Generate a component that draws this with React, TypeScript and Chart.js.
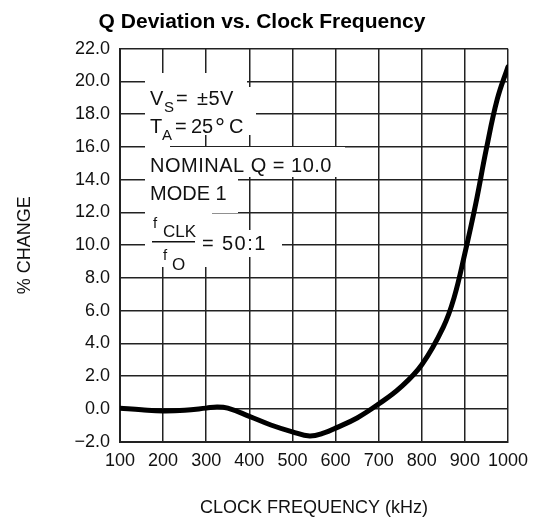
import { useEffect, useRef } from "react";
import { Chart, registerables } from "chart.js";

Chart.register(...registerables);

const chartTitle = "Q Deviation vs. Clock Frequency";
const xAxisTitle = "CLOCK FREQUENCY (kHz)";
const yAxisTitle = "% CHANGE";

const xTickValues = [100, 200, 300, 400, 500, 600, 700, 800, 900, 1000];
const yTickValues = [-2, 0, 2, 4, 6, 8, 10, 12, 14, 16, 18, 20, 22];

const freqKHz = [
  100, 150, 200, 250, 300, 325, 350, 400, 450, 500, 540, 575, 600, 650, 700,
  750, 800, 850, 875, 900, 925, 950, 975, 1000,
];
const pctChange = [
  0.05, -0.05, -0.12, -0.08, 0.05, 0.12, 0.05, -0.45, -0.98, -1.4, -1.65,
  -1.45, -1.17, -0.55, 0.3, 1.3, 2.7, 5.0, 6.8, 9.5, 12.5, 15.9, 18.9, 20.9,
];

const FONT = '"Liberation Sans", Arial, Helvetica, sans-serif';

// Annotation layout, offsets relative to the chart area's top-left corner
// [text, dx, dyBaseline, fontSize, letterSpacing]
const noteTexts: [string, number, number, number, number][] = [
  ["V", 30, 56.3, 20, 0],
  ["S", 44, 63.3, 15, 0],
  ["=", 56, 56.3, 20, 0],
  ["±5V", 77, 56.3, 20, 0.5],
  ["T", 30, 84.3, 20, 0],
  ["A", 42, 91.3, 15, 0],
  ["=", 55, 84.3, 20, 0],
  ["25", 71, 84.3, 20, 0],
  ["°", 95, 87.3, 25, 0],
  ["C", 109, 84.3, 20, 0],
  ["NOMINAL Q = 10.0", 30, 123.3, 20, 0.5],
  ["MODE 1", 30, 151.3, 20, 0],
  ["f", 33, 179.3, 15, 0],
  ["CLK", 43, 188.3, 17, 0],
  ["=", 82, 201.3, 20, 0],
  ["50:1", 102, 201.3, 20, 1.5],
  ["f", 43, 211.3, 15, 0],
  ["O", 52, 221.3, 17, 0],
];
// [dx1, dy1, dx2, dy2] white masks behind the text lines
const noteMasks: [number, number, number, number][] = [
  [25, 24.3, 127, 67.3],
  [25, 38.3, 136, 86.3],
  [25, 98.3, 225, 128.3],
  [25, 128.3, 118, 164.3],
  [25, 164.3, 92, 190],
  [77, 181.3, 162, 208.3],
  [25, 190, 92, 218.3],
  [25, 24.3, 50, 218.3],
];
const fractionBar: [number, number, number] = [32, 75, 193];

const notePlugin = {
  id: "notes",
  beforeDraw(chart: any) {
    chart.ctx.letterSpacing = "0px";
  },
  beforeDatasetsDraw(chart: any) {
    const { ctx, chartArea } = chart;
    const L = chartArea.left;
    const T = chartArea.top;
    ctx.save();
    ctx.fillStyle = "#ffffff";
    for (const [a, b, c, d] of noteMasks) {
      ctx.fillRect(L + a, T + b, c - a, d - b);
    }
    ctx.fillStyle = "#111111";
    ctx.textBaseline = "alphabetic";
    ctx.textAlign = "left";
    for (const [t, dx, dy, fs, ls] of noteTexts) {
      (ctx as any).letterSpacing = `${ls}px`;
      ctx.font = `${fs}px ${FONT}`;
      ctx.fillText(t, L + dx, T + dy);
    }
    (ctx as any).letterSpacing = "0px";
    ctx.strokeStyle = "#111111";
    ctx.lineWidth = 1.5;
    ctx.beginPath();
    ctx.moveTo(L + fractionBar[0], T + fractionBar[2]);
    ctx.lineTo(L + fractionBar[1], T + fractionBar[2]);
    ctx.stroke();
    ctx.restore();
  },
  afterDraw(chart: any) {
    const { ctx } = chart;
    ctx.save();
    ctx.font = `bold 21px ${FONT}`;
    ctx.fillStyle = "#000000";
    ctx.textAlign = "center";
    ctx.textBaseline = "alphabetic";
    ctx.fillText(chartTitle, 254, 19.5);
    ctx.restore();
  },
};

export default function App() {
  const ref = useRef<HTMLCanvasElement | null>(null);

  useEffect(() => {
    if (!ref.current) return;
    const chart = new Chart(ref.current, {
      type: "line",
      data: {
        datasets: [
          {
            data: freqKHz.map((x, i) => ({ x, y: pctChange[i] })),
            borderColor: "#000000",
            borderWidth: 5,
            pointRadius: 0,
            fill: false,
            tension: 0.4,
            borderCapStyle: "round",
            borderJoinStyle: "round",
          },
        ],
      },
      options: {
        animation: false,
        responsive: true,
        maintainAspectRatio: false,
        layout: { padding: { top: 40.7, right: 29, bottom: 0, left: 0 } },
        plugins: {
          legend: { display: false },
          title: { display: false },
          tooltip: { enabled: false },
        },
        scales: {
          x: {
            type: "linear",
            min: 100,
            max: 1000,
            afterBuildTicks: (s: any) => {
              s.ticks = xTickValues.map((v) => ({ value: v }));
            },
            afterFit: (s: any) => {
              s.height = 81.3;
            },
            ticks: {
              autoSkip: false,
              maxRotation: 0,
              padding: 9,
              color: "#111111",
              font: { family: FONT, size: 18 },
              callback: (v: any) => String(v),
            },
            grid: { color: "#222222", lineWidth: 1.5, drawTicks: false },
            border: { color: "#222222", width: 2 },
            title: {
              display: true,
              text: xAxisTitle,
              color: "#111111",
              font: { family: FONT, size: 18 },
              padding: { top: 0, bottom: 4 },
            },
          },
          y: {
            type: "linear",
            min: -2,
            max: 22,
            afterBuildTicks: (s: any) => {
              s.ticks = yTickValues.map((v) => ({ value: v }));
            },
            afterFit: (s: any) => {
              s.width = 112;
            },
            ticks: {
              padding: 10,
              color: "#111111",
              font: { family: FONT, size: 18 },
              callback: (v: any) => {
                const n = Number(v);
                const s = Math.abs(n).toFixed(1);
                return n < 0 ? "\u2212" + s : s;
              },
            },
            grid: { color: "#222222", lineWidth: 1.5, drawTicks: false },
            border: { color: "#222222", width: 2 },
            title: {
              display: true,
              text: yAxisTitle,
              color: "#111111",
              font: { family: FONT, size: 18 },
              padding: { top: 6, bottom: 0 },
            },
          },
        },
      },
      plugins: [notePlugin],
    } as any);
    return () => chart.destroy();
  }, []);

  return (
    <div style={{ position: "relative", width: 529, height: 515 }}>
      <canvas ref={ref} />
    </div>
  );
}
